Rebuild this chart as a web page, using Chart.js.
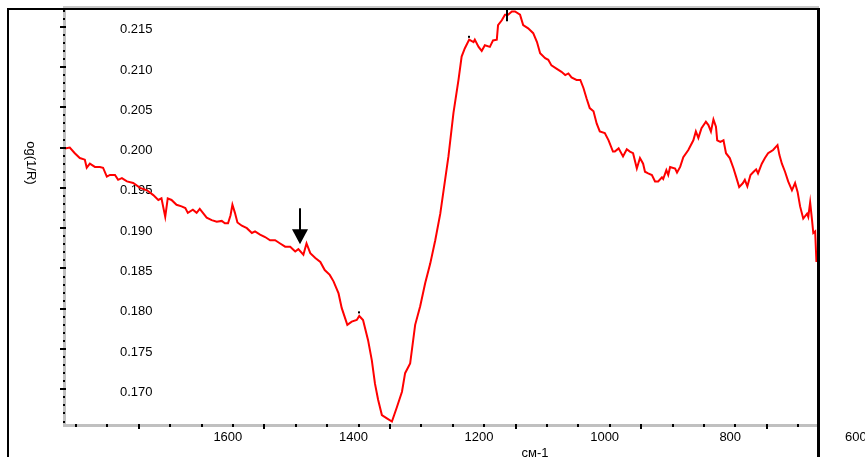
<!DOCTYPE html>
<html><head><meta charset="utf-8">
<script src="https://cdn.jsdelivr.net/npm/chart.js@4.4.1/dist/chart.umd.min.js"></script>
<style>html,body{margin:0;padding:0;background:#fff;overflow:hidden}#wrap{width:865px;height:457px;position:relative}</style>
</head><body><div id="wrap"><canvas id="c" width="865" height="457"></canvas></div>
<script>
// wavenumber (cm-1)
const wavenumber = [1860,1852,1844,1836,1828,1825,1820,1812,1804,1799,1793,1788,1780,1775,1769,1761,1751,1740,1729,1719,1711,1706,1700,1696,1690,1682,1674,1668,1664,1656,1650,1645,1640,1634,1626,1618,1610,1605,1600,1596,1593,1589,1585,1578,1570,1562,1557,1549,1541,1533,1525,1517,1509,1501,1493,1488,1480,1475,1469,1461,1453,1446,1438,1432,1424,1419,1410,1403,1395,1391,1385,1377,1371,1366,1361,1355,1347,1339,1331,1323,1318,1310,1302,1294,1286,1278,1270,1262,1249,1241,1233,1228,1223,1216,1209,1207,1201,1196,1191,1183,1178,1172,1170,1164,1159,1154,1148,1143,1135,1130,1122,1114,1108,1103,1095,1090,1085,1077,1069,1063,1058,1053,1045,1039,1034,1029,1024,1018,1013,1008,1000,994,987,984,978,971,965,960,955,949,944,939,936,931,925,920,915,909,907,902,899,896,888,885,880,875,867,859,855,851,846,839,835,831,827,823,821,816,811,807,801,795,791,786,780,777,773,768,763,759,756,750,745,740,736,732,725,722,718,713,708,702,697,693,689,684,678,676,673,670,668,665,663];
// log(1/R)
const logInvR = [0.1999,0.2000,0.1993,0.1987,0.1985,0.1975,0.1980,0.1976,0.1976,0.1975,0.1964,0.1966,0.1966,0.1960,0.1962,0.1958,0.1956,0.1950,0.1947,0.1941,0.1935,0.1937,0.1914,0.1937,0.1935,0.1929,0.1927,0.1925,0.1919,0.1923,0.1919,0.1924,0.1919,0.1913,0.1910,0.1908,0.1909,0.1906,0.1906,0.1916,0.1929,0.1919,0.1907,0.1903,0.1900,0.1894,0.1896,0.1892,0.1889,0.1885,0.1885,0.1881,0.1877,0.1877,0.1871,0.1874,0.1867,0.1881,0.1869,0.1863,0.1858,0.1848,0.1842,0.1834,0.1819,0.1801,0.1780,0.1784,0.1786,0.1791,0.1786,0.1761,0.1736,0.1707,0.1687,0.1668,0.1664,0.1660,0.1678,0.1697,0.1720,0.1732,0.1780,0.1803,0.1832,0.1856,0.1885,0.1918,0.1989,0.2043,0.2084,0.2113,0.2123,0.2134,0.2131,0.2134,0.2125,0.2120,0.2127,0.2125,0.2133,0.2134,0.2152,0.2158,0.2165,0.2165,0.2169,0.2169,0.2165,0.2152,0.2148,0.2142,0.2131,0.2117,0.2111,0.2109,0.2102,0.2098,0.2094,0.2090,0.2092,0.2087,0.2084,0.2084,0.2074,0.2061,0.2049,0.2045,0.2030,0.2020,0.2018,0.2009,0.1995,0.1995,0.1999,0.1989,0.1998,0.1995,0.1993,0.1974,0.1987,0.1980,0.1970,0.1968,0.1966,0.1958,0.1958,0.1963,0.1961,0.1972,0.1966,0.1976,0.1974,0.1969,0.1976,0.1988,0.1997,0.2009,0.2020,0.2012,0.2024,0.2032,0.2028,0.2020,0.2035,0.2026,0.2009,0.2007,0.2009,0.1993,0.1987,0.1974,0.1964,0.1951,0.1956,0.1960,0.1952,0.1966,0.1970,0.1973,0.1968,0.1980,0.1987,0.1993,0.1995,0.1997,0.2003,0.1991,0.1980,0.1970,0.1958,0.1947,0.1956,0.1945,0.1927,0.1912,0.1918,0.1914,0.1932,0.1910,0.1894,0.1896,0.1858];

// axis labels and tick marks
const xTickLabels = [1600,1400,1200,1000,800,600];
const xTickMarks  = [1842,1792,1742,1692,1642,1592,1542,1492,1442,1392,1342,1292,1242,1192,1142,1092,1042,992,942,892,842,792,742,692];
const xMajorMarks = [1742,1542,1342,1142,942,742];
const yTickLabels = ['0.170','0.175','0.180','0.185','0.190','0.195','0.200','0.205','0.210','0.215'];
const yTickMarks  = [0.166,0.167,0.168,0.169,0.170,0.171,0.172,0.173,0.174,0.175,0.176,0.177,0.178,0.179,0.180,0.181,0.182,0.183,0.184,0.185,0.186,0.187,0.188,0.189,0.190,0.191,0.192,0.193,0.194,0.195,0.196,0.197,0.198,0.199,0.200,0.201,0.202,0.203,0.204,0.205,0.206,0.207,0.208,0.209,0.210,0.211,0.212,0.213,0.214,0.215,0.216,0.217];
const xTitle = 'cм-1';
const yTitle = 'og(1/R)';
// annotation: arrow tip and peak-pick marks
const arrowTip = {x: 1485, y: 0.1880};
const peakMarks = [{x: 1155, y: 0.2158}, {x: 1216, y: 0.2135}, {x: 1391, y: 0.1793}];

const FONT = 'Liberation Sans, Arial, sans-serif';

const decor = {
  id: 'decor',
  beforeDraw(chart) {
    const ctx = chart.ctx;
    ctx.save(); ctx.fillStyle = '#fff'; ctx.fillRect(0, 0, chart.width, chart.height); ctx.restore();
  },
  afterDraw(chart) {
    const ctx = chart.ctx, xs = chart.scales.x, ys = chart.scales.y, ca = chart.chartArea;
    ctx.save();
    ctx.fillStyle = '#000';
    // x tick marks
    xs.ticks.forEach(t => {
      const px = Math.round(xs.getPixelForValue(t.value));
      const major = xMajorMarks.includes(t.value);
      ctx.fillRect(px - 1, xs.top - 1, 2, major ? 5 : 3);
    });
    // y tick marks
    ys.ticks.forEach(t => {
      const py = Math.round(ys.getPixelForValue(t.value));
      const major = yTickLabels.includes(t.value.toFixed(3));
      if (major) ctx.fillRect(ys.right - 4, py - 1, 6, 2);
      else ctx.fillRect(ys.right - 1, py - 1, 2, 2);
    });
    // frame
    ctx.fillStyle = '#c8c8c8';
    ctx.fillRect(ca.left - 1, 6, ca.right - ca.left + 2, 2);
    ctx.fillStyle = '#000';
    ctx.fillRect(7, 8, ca.right - 6, 2);
    ctx.fillRect(7, 8, 2, chart.height - 8);
    ctx.fillRect(ca.right - 1, 8, 3, chart.height - 8);
    // arrow
    const ax = Math.round(xs.getPixelForValue(arrowTip.x));
    const ay = ys.getPixelForValue(arrowTip.y);
    ctx.fillRect(ax - 1, ay - 36, 2, 24);
    ctx.beginPath();
    ctx.moveTo(ax - 8, ay - 15); ctx.lineTo(ax + 8, ay - 15); ctx.lineTo(ax, ay); ctx.closePath();
    ctx.fill();
    // peak marks
    peakMarks.forEach((m, i) => {
      const px = Math.round(xs.getPixelForValue(m.x)), py = ys.getPixelForValue(m.y);
      if (i === 0) ctx.fillRect(px - 1, py - 12, 2, 13);
      else ctx.fillRect(px - 1, py - 3, 2, 2);
    });
    // titles
    ctx.font = '13px ' + FONT;
    ctx.fillStyle = '#000';
    ctx.textAlign = 'center';
    ctx.textBaseline = 'alphabetic';
    ctx.fillText(xTitle, 535, 457);
    ctx.translate(31, 163);
    ctx.rotate(Math.PI / 2);
    ctx.textBaseline = 'middle';
    ctx.fillText(yTitle, 0, 0);
    ctx.restore();
  }
};

new Chart(document.getElementById('c'), {
  type: 'line',
  data: {
    datasets: [{
      data: wavenumber.map((w, i) => ({x: w, y: logInvR[i]})),
      borderColor: '#ff0000',
      borderWidth: 2,
      pointRadius: 0,
      tension: 0,
      fill: false
    }]
  },
  options: {
    responsive: false,
    animation: false,
    devicePixelRatio: 1,
    layout: {padding: {left: 0, right: 47, top: 9, bottom: 0}},
    plugins: {legend: {display: false}, tooltip: {enabled: false}},
    scales: {
      x: {
        type: 'linear', reverse: true, min: 660.5, max: 1861.2,
        afterBuildTicks: s => { s.ticks = xTickMarks.map(v => ({value: v})); },
        afterFit: s => { s.height = 32; s.paddingLeft = 0; s.paddingRight = 0; },
        grid: {display: false, drawTicks: false},
        border: {display: true, color: '#c0c0c0', width: 3},
        ticks: {
          autoSkip: false, maxRotation: 0, minRotation: 0, labelOffset: 89, padding: 5,
          color: '#000', font: {family: FONT, size: 13},
          callback: v => { const k = xMajorMarks.indexOf(v); return k >= 0 ? String(xTickLabels[k]) : ''; }
        }
      },
      y: {
        type: 'linear', min: 0.16557, max: 0.21720,
        afterBuildTicks: s => { s.ticks = yTickMarks.map(v => ({value: v})); },
        afterFit: s => { s.width = 64; s.paddingTop = 0; s.paddingBottom = 0; },
        grid: {display: false, drawTicks: false},
        border: {display: true, color: '#c0c0c0', width: 3},
        ticks: {
          autoSkip: false, mirror: true, padding: 56, labelOffset: 3,
          color: '#000', font: {family: FONT, size: 13},
          callback: v => { const s = v.toFixed(3); return yTickLabels.includes(s) ? s : ''; }
        }
      }
    }
  },
  plugins: [decor]
});
</script></body></html>
